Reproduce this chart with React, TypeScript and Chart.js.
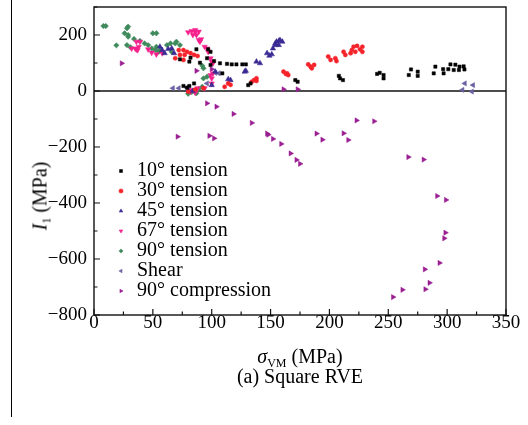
import React, { useEffect, useRef } from "react";
import { Chart, registerables } from "chart.js";

Chart.register(...registerables);

// ---------- data ----------
const seriesNames = [
  "10° tension",
  "30° tension",
  "45° tension",
  "67° tension",
  "90° tension",
  "Shear",
  "90° compression",
];

const tension10: [number, number][] = [
  [73, 113], [81, 105], [82, 119], [87, 149], [90, 101], [96, 117], [97, 149], [99, 140], [99, 93],
  [102, 107], [107, 99], [113, 97], [117, 95], [121, 95], [126, 95], [129, 95], [109, 63], [76, 18],
  [81, 18], [85, 27], [79, 12], [131, 21], [133, 27], [171, 39], [173, 33], [208, 54], [209, 45],
  [211.5, 39], [240.5, 61], [242.7, 65], [246, 57], [246, 45], [267.4, 57], [269.3, 77], [275, 69],
  [275, 54], [288.6, 63], [290, 87], [296.6, 78], [297, 63], [301, 78], [302.8, 95], [305.6, 75],
  [307, 94], [310, 75], [310.5, 87], [314, 88], [314.7, 77],
];

const tension30: [number, number][] = [
  [69, 117], [72, 146], [73, 129], [76, 146], [76, 111], [77, 129], [79, 140], [82, 135], [85, 129],
  [88, 125], [80, -2], [86, 5], [93, 10], [111, 15], [114, 27], [116, 22], [134, 33], [136, 39],
  [138, 45], [138, 36], [161, 69], [163, 61], [164, 63], [165, 57], [182, 95], [184, 87], [187, 93],
  [185, 81], [199, 123], [201, 111], [205, 117], [206, 107], [212, 140], [213.5, 129], [218, 135],
  [219, 146], [220.5, 158], [222, 140], [223.5, 161], [226, 149], [228, 158], [228, 140],
];

const tension45: [number, number][] = [
  [56, 158], [58, 146], [60, 135], [63, 150], [66, 152], [68, 135], [80, 4], [84, 0], [100, 21],
  [103, 69], [114, 42], [116, 39], [128, 69], [129, 72], [138, 105], [141, 99], [147, 135],
  [149, 126], [151, 131], [152, 152], [154, 164], [154, 170], [155, 176], [157, 179], [158, 182],
  [160, 176], [157, 164],
];

const tension67: [number, number][] = [
  [32, 152], [35, 152], [36, 149], [38, 158], [37, 146], [36, 176], [39, 176], [46, 149], [49, 137],
  [53, 131], [58, 135], [80, 210], [83, 214], [86, 210], [84, 200], [86, 218], [89, 212], [87, 200],
  [89, 182], [91, 185], [90, 176], [94, 158], [96, 152], [97, 140], [99, 117], [100, 105], [101, 99],
  [99, 57], [100, 45], [101, 63], [82, -2], [86, -6], [88, 10], [94, 10], [100, 27], [83, 4],
];

const tension90: [number, number][] = [
  [8, 232], [10, 232], [28, 224], [29, 230], [26, 206], [29, 200], [29, 194], [34, 186], [39, 179],
  [19, 163], [28, 164], [31, 156], [43, 170], [46, 164], [49, 152], [52, 146], [55, 140], [50, 206],
  [53, 206], [53, 158], [56, 146], [62, 164], [65, 170], [70, 176], [73, 164], [66, 140], [69, 170],
  [92, 90], [93, 81], [93, 45], [96, 51], [80, -10], [83, -4], [86, 2], [89, 8], [92, 15], [87, -8],
];

const shear: [number, number][] = [
  [67, 10], [72, 10], [79, 12], [96, 27], [103, 65], [106, 63], [315, 27], [322, 21], [313, 4],
  [321, -2],
];

const compression90: [number, number][] = [
  [23.5, 99], [87, 72], [100, 78], [161, 6], [173, 6], [96, -44], [104, -56], [118.5, -82],
  [134, -114], [147, -152], [148, -156], [152, -171], [159, -189], [167, -223], [172, -246],
  [175, -260], [189, -152], [194, -174], [212, -151], [216, -175], [223, -105], [238, -108],
  [267, -236], [280, -245], [291.5, -375], [299, -389], [298.5, -506], [297.5, -526], [293.5, -614],
  [281, -637], [285, -685], [281.5, -708], [262, -710], [254, -736], [71, -163], [98, -160],
  [102, -169],
];

const xTickValues = [0, 50, 100, 150, 200, 250, 300, 350];
const yTickValues = [-800, -600, -400, -200, 0, 200];

// ---------- styles ----------
const FONT = "'Liberation Serif', 'Times New Roman', serif";
const seriesData = [tension10, tension30, tension45, tension67, tension90, shear, compression90];
const seriesColors = ["#000000", "#f5222a", "#3a2a94", "#f5208c", "#3f8a5c", "#6c61a0", "#9a1e92"];
const seriesStyles: any[] = ["rect", "circle", "triangle", "triangle", "rectRot", "triangle", "triangle"];
const seriesRotation = [0, 0, 0, 180, 0, -90, 90];
const seriesRadius = [2.3, 2.1, 3.1, 3.1, 2.7, 3.0, 3.0];

const framePlugin = {
  id: "framePlugin",
  afterLayout(chart: any) {
    const ca = chart.chartArea;
    const lg = chart.legend;
    if (lg) {
      lg.left = ca.left + 21;
      lg.top = 161;
      lg.right = ca.right;
      lg.bottom = ca.bottom;
    }
  },
  beforeDatasetsDraw(chart: any) {
    const { ctx, chartArea: ca, scales } = chart;
    const y0 = scales.y.getPixelForValue(0);
    ctx.save();
    ctx.strokeStyle = "#111";
    ctx.lineWidth = 1.4;
    ctx.beginPath();
    ctx.moveTo(ca.left, y0);
    ctx.lineTo(ca.right, y0);
    ctx.stroke();
    ctx.restore();
  },
  afterDatasetsDraw(chart: any) {
    const { ctx, chartArea: ca, scales } = chart;
    ctx.save();
    ctx.strokeStyle = "#111";
    ctx.lineWidth = 1.4;
    ctx.strokeRect(ca.left, ca.top, ca.right - ca.left, ca.bottom - ca.top);
    ctx.lineWidth = 1.2;
    ctx.beginPath();
    for (let i = 0; i < xTickValues.length; i++) {
      const px = scales.x.getPixelForValue(xTickValues[i]);
      ctx.moveTo(px, ca.bottom);
      ctx.lineTo(px, ca.bottom - 6);
      if (i < xTickValues.length - 1) {
        const mx = scales.x.getPixelForValue((xTickValues[i] + xTickValues[i + 1]) / 2);
        ctx.moveTo(mx, ca.bottom);
        ctx.lineTo(mx, ca.bottom - 3.5);
      }
    }
    for (let i = 0; i < yTickValues.length; i++) {
      const py = scales.y.getPixelForValue(yTickValues[i]);
      ctx.moveTo(ca.left, py);
      ctx.lineTo(ca.left + 6, py);
      const my = scales.y.getPixelForValue(yTickValues[i] + 100);
      ctx.moveTo(ca.left, my);
      ctx.lineTo(ca.left + 3.5, my);
    }
    ctx.stroke();
    ctx.restore();
  },
};

export default function App() {
  const canvasRef = useRef<HTMLCanvasElement | null>(null);

  useEffect(() => {
    if (!canvasRef.current) return;
    const chart = new Chart(canvasRef.current, {
      type: "scatter",
      data: {
        datasets: seriesNames.map((name, i) => ({
          label: name,
          data: seriesData[i].map(([x, y]) => ({ x, y })),
          backgroundColor: seriesColors[i],
          borderColor: seriesColors[i],
          pointStyle: seriesStyles[i],
          pointRotation: seriesRotation[i],
          pointRadius: seriesRadius[i],
          pointBorderWidth: 0.5,
          pointHoverRadius: seriesRadius[i],
        })),
      },
      options: {
        responsive: false,
        animation: false,
        devicePixelRatio: 1,
        layout: { padding: { left: 14, top: 7, right: 22, bottom: 0 } },
        plugins: {
          tooltip: { enabled: false },
          legend: {
            position: "chartArea" as any,
            align: "start",
            labels: {
              usePointStyle: true,
              boxWidth: 12,
              boxHeight: 3,
              padding: 0,
              color: "#000",
              font: { family: FONT, size: 20 },
            },
          },
        },
        scales: {
          x: {
            type: "linear",
            min: 0,
            max: 350,
            afterFit: (s: any) => {
              s.height = 110;
              s.paddingLeft = 0;
              s.paddingRight = 0;
            },
            border: { display: false },
            grid: { display: false, drawTicks: false },
            ticks: {
              stepSize: 50,
              padding: -3,
              color: "#000",
              font: { family: FONT, size: 19 },
              maxRotation: 0,
            },
          },
          y: {
            type: "linear",
            min: -800,
            max: 300,
            afterFit: (s: any) => {
              s.width = 80;
              s.paddingTop = 0;
              s.paddingBottom = 0;
            },
            border: { display: false },
            grid: { display: false, drawTicks: false },
            ticks: {
              stepSize: 200,
              includeBounds: false,
              padding: 7,
              color: "#000",
              font: { family: FONT, size: 19 },
              callback: (v: any) => String(v).replace("-", "\u2212"),
            },
          },
        },
      },
      plugins: [framePlugin],
    });
    return () => chart.destroy();
  }, []);

  const textStyle: React.CSSProperties = {
    position: "absolute",
    fontFamily: FONT,
    fontSize: 20,
    color: "#000",
    whiteSpace: "nowrap",
    lineHeight: "22px",
  };

  return (
    <div
      style={{
        position: "fixed",
        left: 0,
        top: 0,
        width: 528,
        height: 425,
        background: "#fff",
        overflow: "hidden",
      }}
    >
      <div
        style={{
          position: "absolute",
          left: 11,
          top: 0,
          width: 0,
          height: 417,
          borderLeft: "1.5px solid #000",
        }}
      />
      <canvas
        ref={canvasRef}
        width={528}
        height={425}
        style={{ position: "absolute", left: 0, top: 0 }}
      />
      <div style={{ ...textStyle, left: 94, width: 412, top: 345, textAlign: "center" }}>
        <i>σ</i>
        <span style={{ fontSize: 12, position: "relative", top: 4 }}>VM</span> (MPa)
      </div>
      <div style={{ ...textStyle, left: 94, width: 412, top: 365, textAlign: "center" }}>
        (a) Square RVE
      </div>
      <div
        style={{
          ...textStyle,
          left: 41,
          top: 196,
          transform: "translate(-50%, -50%) rotate(-90deg)",
        }}
      >
        <i>I</i>
        <span style={{ fontSize: 12, position: "relative", top: 4 }}>1</span> (MPa)
      </div>
    </div>
  );
}
